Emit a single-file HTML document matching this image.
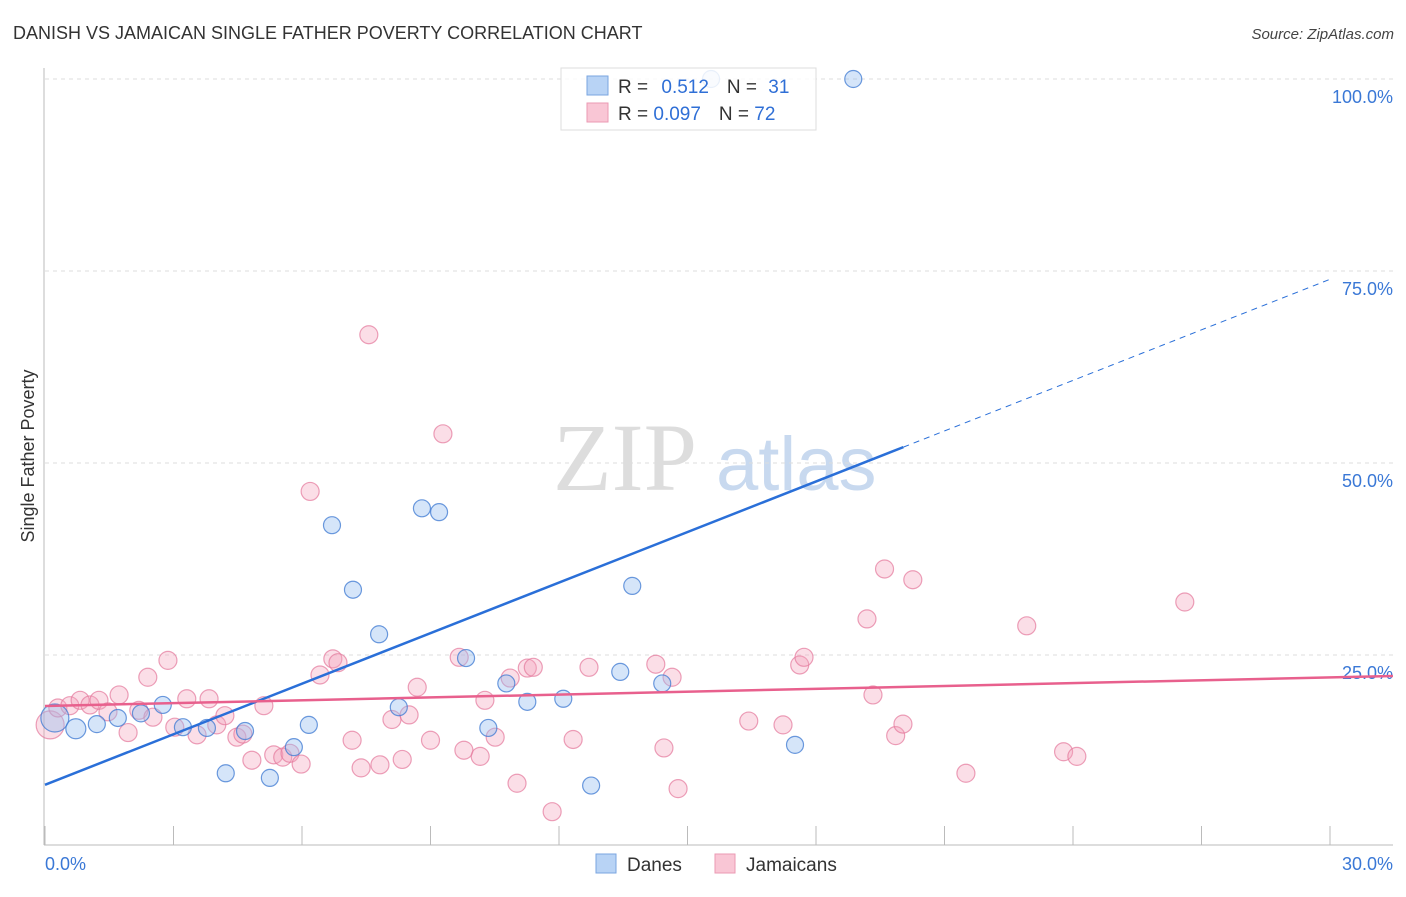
<!DOCTYPE html>
<html><head><meta charset="utf-8"><style>
body{margin:0;background:#fff;font-family:"Liberation Sans",sans-serif;}
</style></head><body>
<svg id="chart" width="1406" height="892" xmlns="http://www.w3.org/2000/svg" font-family="Liberation Sans, sans-serif">
<text x="13" y="39" font-size="18" fill="#333">DANISH VS JAMAICAN SINGLE FATHER POVERTY CORRELATION CHART</text>
<text x="1394" y="39" font-size="15" fill="#444" text-anchor="end" font-style="italic">Source: ZipAtlas.com</text>
<text transform="translate(34,456) rotate(-90)" font-size="18" fill="#333" text-anchor="middle">Single Father Poverty</text>
<g><text x="553" y="490" font-size="96" fill="#ddd" font-family="Liberation Serif, serif">ZIP</text><text x="716" y="490" font-size="76" fill="#c8d9ef">atlas</text></g>
<g id="grid"></g><g id="axes"></g><g id="marks"></g><g id="lines"></g>
<g>
<rect x="561" y="68" width="255" height="62" fill="rgba(255,255,255,0.85)" stroke="#ddd"/>
<rect x="587" y="76" width="21" height="19" fill="#b8d3f5" stroke="#7aa6e0"/>
<rect x="587" y="103" width="21" height="19" fill="#f9c6d5" stroke="#eb9ab3"/>
<text x="618" y="93" font-size="19" fill="#333">R = <tspan fill="#2f6fd6" dx="8">0.512</tspan><tspan dx="18" fill="#333">N = </tspan><tspan fill="#2f6fd6" dx="6">31</tspan></text>
<text x="618" y="120" font-size="19" fill="#333">R = <tspan fill="#2f6fd6">0.097</tspan><tspan dx="18" fill="#333">N = </tspan><tspan fill="#2f6fd6">72</tspan></text>
</g>
<g>
<rect x="596" y="854" width="20" height="19" fill="#b8d3f5" stroke="#7aa6e0"/>
<text x="627" y="871" font-size="19" fill="#333">Danes</text>
<rect x="715" y="854" width="20" height="19" fill="#f9c6d5" stroke="#eb9ab3"/>
<text x="746" y="871" font-size="19" fill="#333">Jamaicans</text>
</g>
</svg>
<script>
const yTicks=[25,50,75,100];
const yTickLabels=["25.0%","50.0%","75.0%","100.0%"];
const xTicks=[0,3,6,9,12,15,18,21,24,27,30];
const xEndLabels=["0.0%","30.0%"];
const danesX=[0.23,0.72,1.21,1.7,2.24,2.75,3.22,3.78,4.22,4.67,5.25,5.81,6.16,6.7,7.19,7.8,8.26,8.8,9.2,9.83,10.35,10.77,11.26,12.1,12.75,13.43,13.71,14.41,15.55,17.51,18.87];
const danesY=[16.8,15.4,16.0,16.8,17.4,18.5,15.6,15.5,9.6,15.1,9.0,13.0,15.9,41.9,33.5,27.7,18.2,44.1,43.6,24.6,15.5,21.3,18.9,19.3,8.0,22.8,34.0,21.3,100,13.3,100];
const jamX=[0.12,0.3,0.58,0.82,1.05,1.26,1.47,1.73,1.94,2.19,2.4,2.52,2.87,3.03,3.31,3.55,3.83,4.01,4.2,4.48,4.62,4.83,5.11,5.34,5.55,5.72,5.98,6.19,6.42,6.72,6.84,7.17,7.38,7.56,7.82,8.1,8.34,8.5,8.69,9.0,9.29,9.67,9.78,10.16,10.27,10.51,10.86,11.02,11.26,11.4,11.84,12.33,12.7,14.26,14.45,14.64,14.78,16.43,17.23,17.62,17.72,19.19,19.33,19.6,19.86,20.03,20.26,21.5,22.92,23.78,24.09,26.61];
const jamY=[15.9,18.1,18.4,19.1,18.5,19.1,17.6,19.8,14.9,17.8,22.1,16.9,24.3,15.6,19.3,14.6,19.3,15.9,17.1,14.3,14.7,11.3,18.4,12.0,11.7,12.2,10.8,46.3,22.4,24.5,24.0,13.9,10.3,66.7,10.7,16.6,11.4,17.2,20.8,13.9,53.8,24.7,12.6,11.8,19.1,14.3,22.0,8.3,23.3,23.4,4.6,14.0,23.4,23.8,12.9,22.1,7.6,16.4,15.9,23.7,24.7,29.7,19.8,36.2,14.5,16.0,34.8,9.6,28.8,12.4,11.8,31.9];
const danesTrend=[8.1,2.194];
const jamTrend=[18.36,0.124];
const X0=45,X1=1330,YB=847,YH=768;
const sx=v=>X0+v/30*(X1-X0);
const sy=v=>YB-v/100*YH;
const NS="http://www.w3.org/2000/svg";
function mk(tag,attrs,parent){const e=document.createElementNS(NS,tag);for(const k in attrs)e.setAttribute(k,attrs[k]);document.getElementById(parent).appendChild(e);return e;}
yTicks.forEach((t,i)=>{
 const g=mk('line',{x1:45,x2:1393,y1:sy(t),y2:sy(t),stroke:'#ddd','stroke-dasharray':'4,4'},'grid');
 
 
 const l=mk('text',{x:1393,y:sy(t)+24,'font-size':18,fill:'#3a78d6','text-anchor':'end'},'axes');
 l.textContent=yTickLabels[i];
 
 
});
const ax=mk('line',{x1:44,x2:44,y1:68,y2:845,stroke:'#bbb'},'axes');


const bx=mk('line',{x1:44,x2:1393,y1:845,y2:845,stroke:'#bbb'},'axes');


xTicks.forEach(t=>{
 const k=mk('line',{x1:sx(t),x2:sx(t),y1:826,y2:845,stroke:'#bbb'},'axes');
 
 
});
const xl0=mk('text',{x:45,y:870,'font-size':18,fill:'#3a78d6'},'axes');xl0.textContent=xEndLabels[0];


const xl1=mk('text',{x:1393,y:870,'font-size':18,fill:'#3a78d6','text-anchor':'end'},'axes');xl1.textContent=xEndLabels[1];


jamX.forEach((x,i)=>{
 const c=mk('circle',{cx:sx(x),cy:sy(jamY[i]),r:i==0?14:9,fill:'rgba(244,160,187,0.35)',stroke:'rgba(228,120,155,0.7)','stroke-width':1.2},'marks');
 
 
});
danesX.forEach((x,i)=>{
 const c=mk('circle',{cx:sx(x),cy:sy(danesY[i]),r:i==0?14:(i==1?10:8.5),fill:'rgba(150,190,240,0.4)',stroke:'rgba(60,120,210,0.75)','stroke-width':1.2},'marks');
 
 
});
const xs=20.04;
const b1=mk('line',{x1:sx(0),y1:sy(danesTrend[0]),x2:sx(xs),y2:sy(danesTrend[0]+danesTrend[1]*xs),stroke:'#2a6fd8','stroke-width':2.5},'lines');


const b2=mk('line',{x1:sx(xs),y1:sy(danesTrend[0]+danesTrend[1]*xs),x2:sx(30),y2:sy(danesTrend[0]+danesTrend[1]*30),stroke:'#2a6fd8','stroke-width':1,'stroke-dasharray':'6,5'},'lines');


const xe=31.47;
const p1=mk('line',{x1:sx(0),y1:sy(jamTrend[0]),x2:sx(xe),y2:sy(jamTrend[0]+jamTrend[1]*xe),stroke:'#e8608d','stroke-width':2.5},'lines');


</script>
</body></html>
